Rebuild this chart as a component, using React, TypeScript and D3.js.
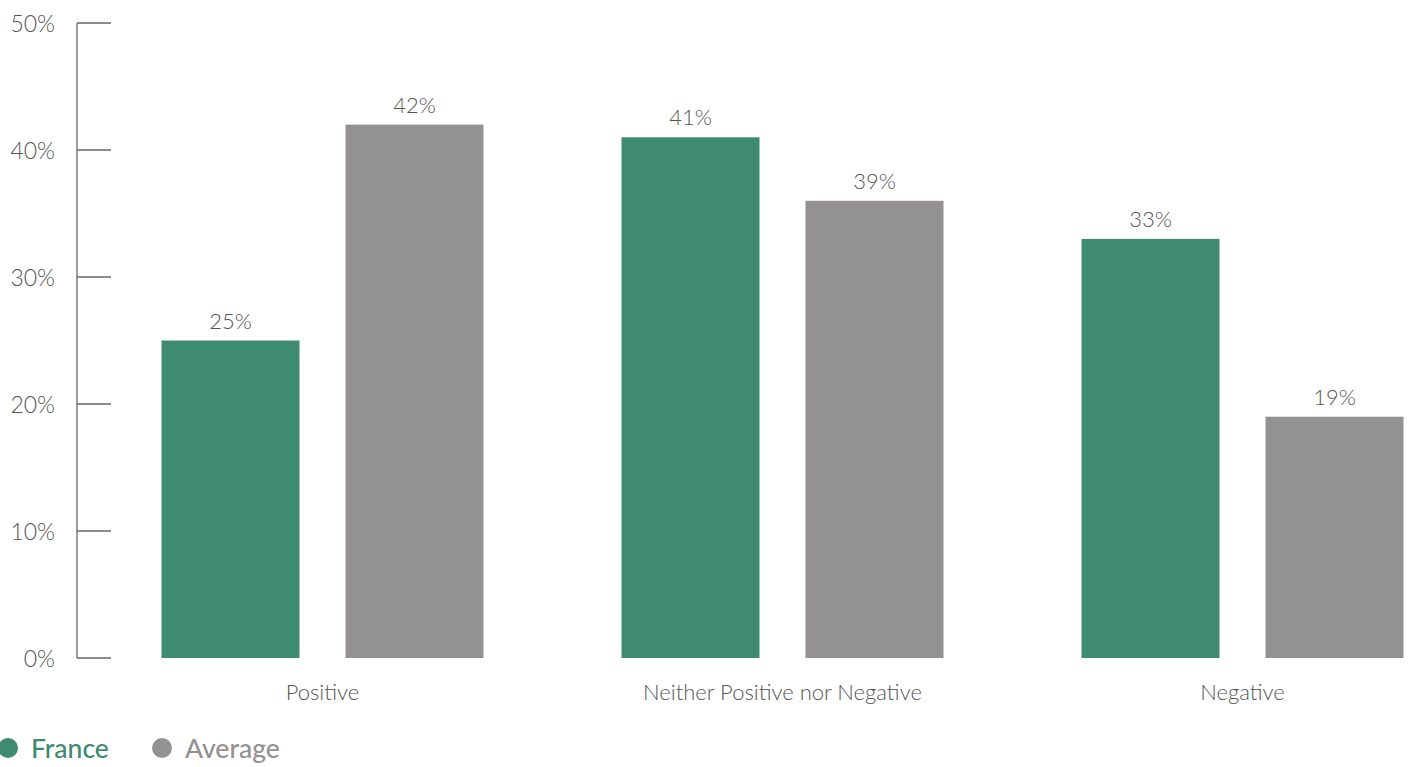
import React from "react";
import * as d3 from "d3";

const categories = ["Positive", "Neither Positive nor Negative", "Negative"];
const seriesNames = ["France", "Average"];
const franceValues = [25, 41, 33];
const averageValues = [42, 36, 19];
const franceLabels = ["25%", "41%", "33%"];
const averageLabels = ["42%", "39%", "19%"];
const yTicks = [0, 10, 20, 30, 40, 50];
const colors = ["#3f8b71", "#939192"];

const W = 1408;
const H = 767;
const FONT = "Lato, 'Open Sans', sans-serif";

export default function App() {
  const y = d3.scaleLinear().domain([0, 50]).range([658, 23]);
  const x0 = d3.scaleBand<string>().domain(categories).range([161.5, 1403.5]).paddingInner(0.3).paddingOuter(0);
  const x1 = d3.scaleBand<string>().domain(seriesNames).range([0, x0.bandwidth()]).paddingInner(0.25);
  const values = [franceValues, averageValues];
  const labels = [franceLabels, averageLabels];

  return (
    <svg width={W} height={H} style={{ position: "absolute", left: 0, top: 0, background: "#fff" }} fontFamily={FONT}>
      {/* y axis */}
      <line x1={77} x2={77} y1={y(50)} y2={y(0)} stroke="#666" strokeWidth={1.3} />
      {yTicks.map((t) => (
        <g key={t}>
          <line x1={77} x2={111} y1={y(t)} y2={y(t)} stroke="#666" strokeWidth={1.3} />
          <text x={55} y={y(t) + 9} textAnchor="end" fontSize={23} fill="#555" fontWeight={300}>
            {t}%
          </text>
        </g>
      ))}
      {/* bars */}
      {categories.map((c, ci) => (
        <g key={c} transform={`translate(${x0(c)},0)`}>
          {seriesNames.map((s, si) => {
            const v = values[si][ci];
            const bx = x1(s)!;
            return (
              <g key={s}>
                <rect x={bx} y={y(v)} width={x1.bandwidth()} height={y(0) - y(v)} fill={colors[si]} />
                <text x={bx + x1.bandwidth() / 2} y={y(v) - 12} textAnchor="middle" fontSize={22} fill="#555" fontWeight={300}>
                  {labels[si][ci]}
                </text>
              </g>
            );
          })}
          <text x={x0.bandwidth() / 2} y={700} textAnchor="middle" fontSize={22} fill="#555" fontWeight={300}>
            {c}
          </text>
        </g>
      ))}
      {/* legend */}
      {seriesNames.map((s, i) => {
        const lx = i === 0 ? 8 : 162;
        return (
          <g key={s}>
            <circle cx={lx} cy={748} r={10} fill={colors[i]} />
            <text x={lx + 23} y={758} fontSize={26.5} fill={colors[i]} fontWeight={500}>
              {s}
            </text>
          </g>
        );
      })}
    </svg>
  );
}
